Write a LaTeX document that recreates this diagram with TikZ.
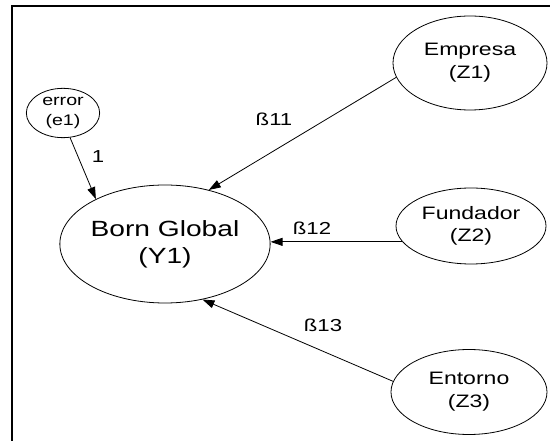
\documentclass[tikz,border=0pt]{standalone}
\usepackage{fontspec}
\setmainfont[FakeStretch=1.28]{Liberation Sans}
\usetikzlibrary{shapes.geometric,arrows.meta}

\begin{document}
\begin{tikzpicture}[x=0.75pt,y=-0.75pt,
	latent/.style={draw,ellipse,inner sep=0pt,line width=0.6pt,align=center},
	regpath/.style={-{Triangle[length=9pt,width=6pt]},line width=0.6pt},
	coef/.style={font=\fontsize{13}{15}\selectfont}]
	
	\useasboundingbox (0,0) rectangle (550,441);
	\draw[line width=1.5pt] (12,441) -- (12,6) -- (550,6);
	
	\node[latent,minimum width=55pt,minimum height=37pt,font=\fontsize{11.5}{15}\selectfont] (e1) at (63,113) {error\\(e1)};
	\node[latent,minimum width=153pt,minimum height=88.5pt,font=\fontsize{16.5}{20.5}\selectfont] (y1) at (165,244) {Born Global\\(Y1)};
	\node[latent,minimum width=115.5pt,minimum height=70.5pt,font=\fontsize{13.5}{17}\selectfont] (z1) at (470,63) {Empresa\\(Z1)};
	\node[latent,minimum width=112.5pt,minimum height=57pt,font=\fontsize{13.5}{17}\selectfont] (z2) at (471,226) {Fundador\\(Z2)};
	\node[latent,minimum width=117pt,minimum height=63.75pt,font=\fontsize{13.5}{17}\selectfont] (z3) at (469,392) {Entorno\\(Z3)};
	
	\draw[regpath] (e1.-74) -- (y1.147);
	\draw[regpath] (z1.191) -- (y1.51);
	\draw[regpath] (z2.193) -- (z2.193 -| y1.east);
	\draw[regpath] (z3.172) -- (y1.-56);
	
	\node[coef] (w1) at (98,157) {1};
	\node[coef] (b11) at (274,119) {ß11};
	\node[coef] (b12) at (312,228) {ß12};
	\node[coef] (b13) at (323,325) {ß13};
	
\end{tikzpicture}
\end{document}
